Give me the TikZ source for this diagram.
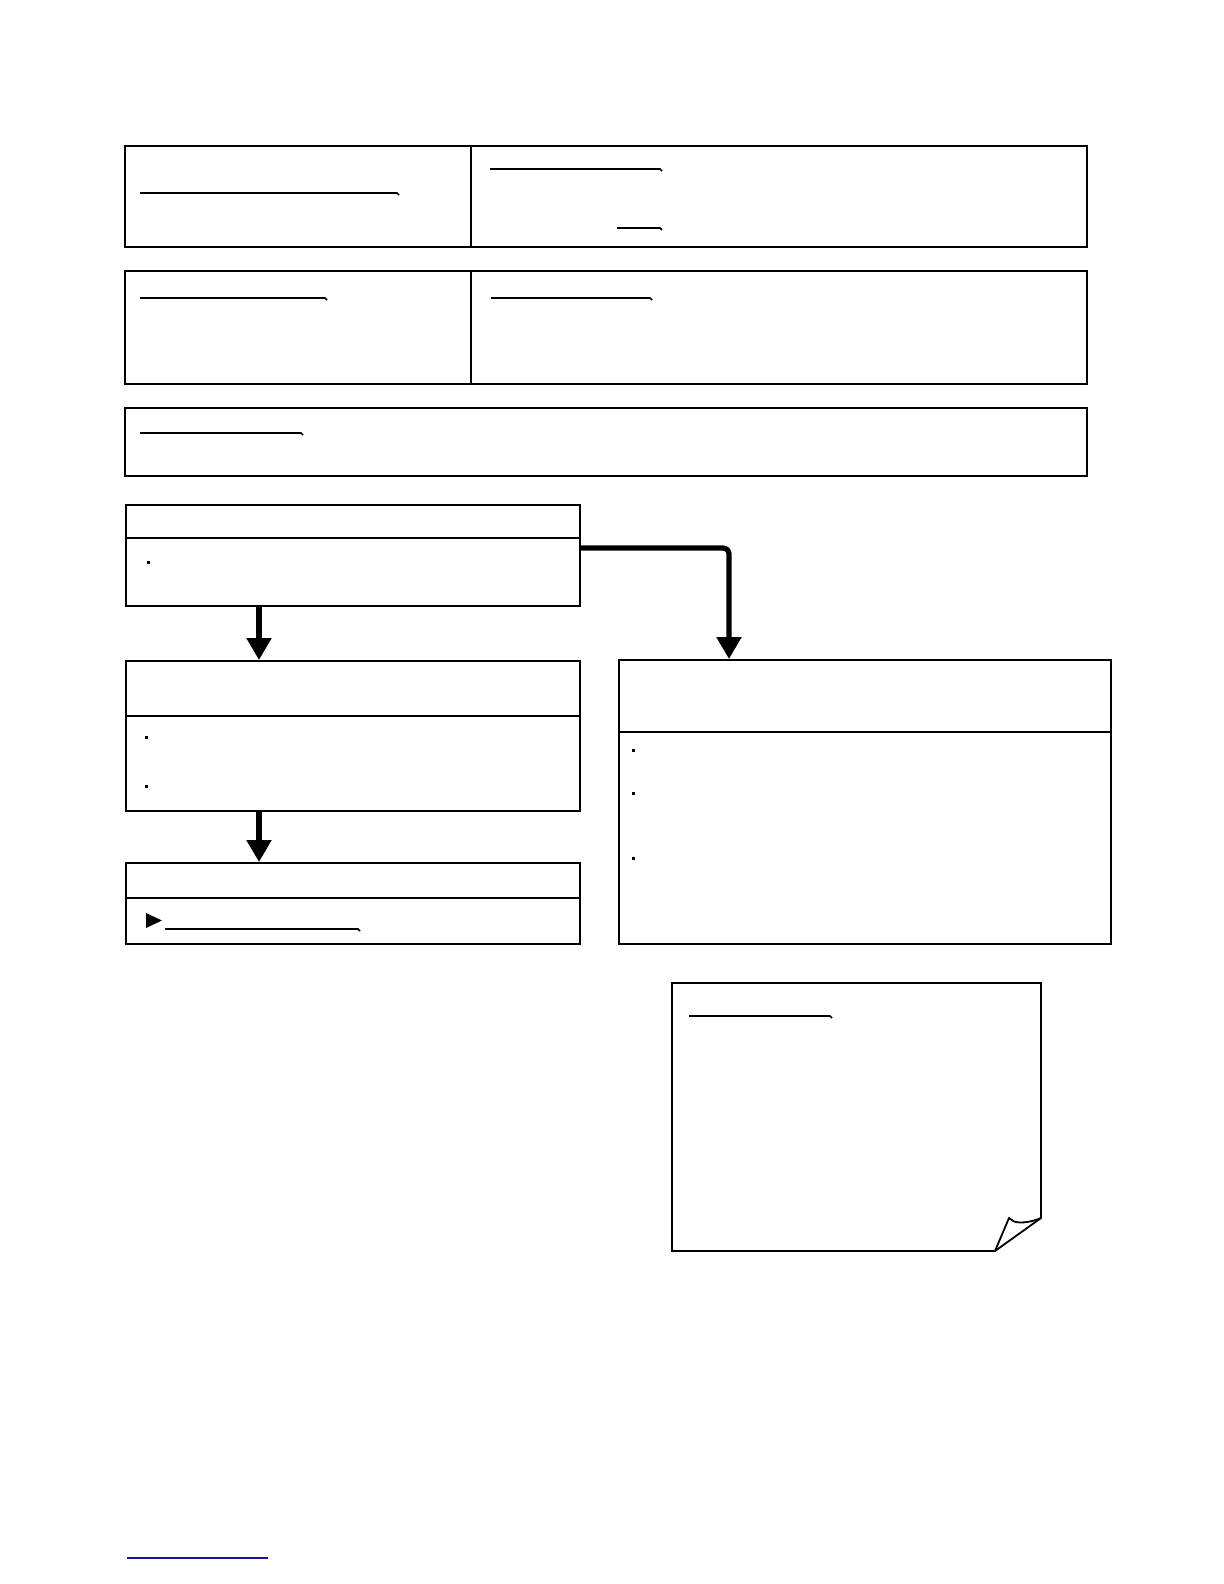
\documentclass[tikz,border=0pt]{standalone}
\usetikzlibrary{arrows.meta}
\definecolor{linkblue}{RGB}{20,20,150}
\begin{document}
\begin{tikzpicture}[x=0.5pt,y=-0.5pt,
  boxline/.style={draw=black,line width=0.9pt},
  thickrule/.style={draw=black,line width=1.4pt},
  uline/.style={draw=black,line width=0.8pt},
  bulletdot/.style={fill=black},
  flowarrow/.style={draw=black,line width=2.6pt,-{Triangle[length=11pt,width=12pt]}}]
\useasboundingbox (0,0) rectangle (1224,1584);
% row 1
\draw[boxline] (125,146) rectangle (1087,247);
\draw[thickrule] (471,146) -- (471,247);
\draw[uline] (140,193) -- (397,193) to[bend left=40] (399,195);
\draw[uline] (490,169) -- (660,169) to[bend left=40] (662,171);
\draw[uline] (617,228) -- (660,228) to[bend left=40] (662,230);
% row 2
\draw[boxline] (125,271) rectangle (1087,384);
\draw[thickrule] (125,271) -- (1087,271);
\draw[thickrule] (471,271) -- (471,384);
\draw[uline] (140,298) -- (325,298) to[bend left=40] (327,300);
\draw[uline] (491,298) -- (650,298) to[bend left=40] (652,300);
% row 3
\draw[boxline] (125,408) rectangle (1087,476);
\draw[uline] (140,433) -- (301,433) to[bend left=40] (303,435);
% box 4
\node[boxline,minimum width=227pt,minimum height=50.5pt,anchor=north west,inner sep=0pt] (b4) at (125,504) {};
\draw[thickrule] (125,538) -- (579,538);
\fill[bulletdot] (146.5,560.5) rectangle (149.5,563.5);
% box 5
\node[boxline,minimum width=227pt,minimum height=75pt,anchor=north west,inner sep=0pt] (b5) at (125,660) {};
\draw[boxline] (125,716) -- (579,716);
\fill[bulletdot] (144.5,735.5) rectangle (147.5,738.5);
\fill[bulletdot] (144.5,784.5) rectangle (147.5,787.5);
% box 6
\node[boxline,minimum width=227pt,minimum height=40.5pt,anchor=north west,inner sep=0pt] (b6) at (125,862) {};
\draw[thickrule] (125,898) -- (579,898);
\fill (146,913) -- (162,920.5) -- (146,928) -- cycle;
\draw[uline] (165,929) -- (358,929) to[bend left=40] (360,931);
% box 7
\node[boxline,minimum width=246pt,minimum height=142pt,anchor=north west,inner sep=0pt] (b7) at (618,659) {};
\draw[thickrule] (618,732) -- (1110,732);
\fill[bulletdot] (631.5,748.5) rectangle (634.5,751.5);
\fill[bulletdot] (631.5,791.5) rectangle (634.5,794.5);
\fill[bulletdot] (631.5,856.5) rectangle (634.5,859.5);
% connectors
\coordinate (a1) at (259,605);
\coordinate (a1e) at (259,660);
\draw[flowarrow] (a1) -- (a1e);
\coordinate (a2) at (259,810);
\coordinate (a2e) at (259,862);
\draw[flowarrow] (a2) -- (a2e);
\coordinate (c1) at (579,548);
\coordinate (c2) at (729,659);
\draw[flowarrow,rounded corners=3pt] (c1) -- (729,548) -- (c2);
% note
\draw[boxline] (995,1251) -- (672,1251) -- (672,983) -- (1041,983) -- (1041,1218) -- cycle;
\draw[boxline] (1041,1218) .. controls (1030,1223) and (1015,1224) .. (1012,1220) -- (1009,1218) -- (995,1251);
\draw[uline] (689,1016) -- (830,1016) to[bend left=40] (832,1018);
% footer link line
\draw[draw=linkblue,line width=0.8pt] (127,1558) -- (268,1558);
\end{tikzpicture}
\end{document}
